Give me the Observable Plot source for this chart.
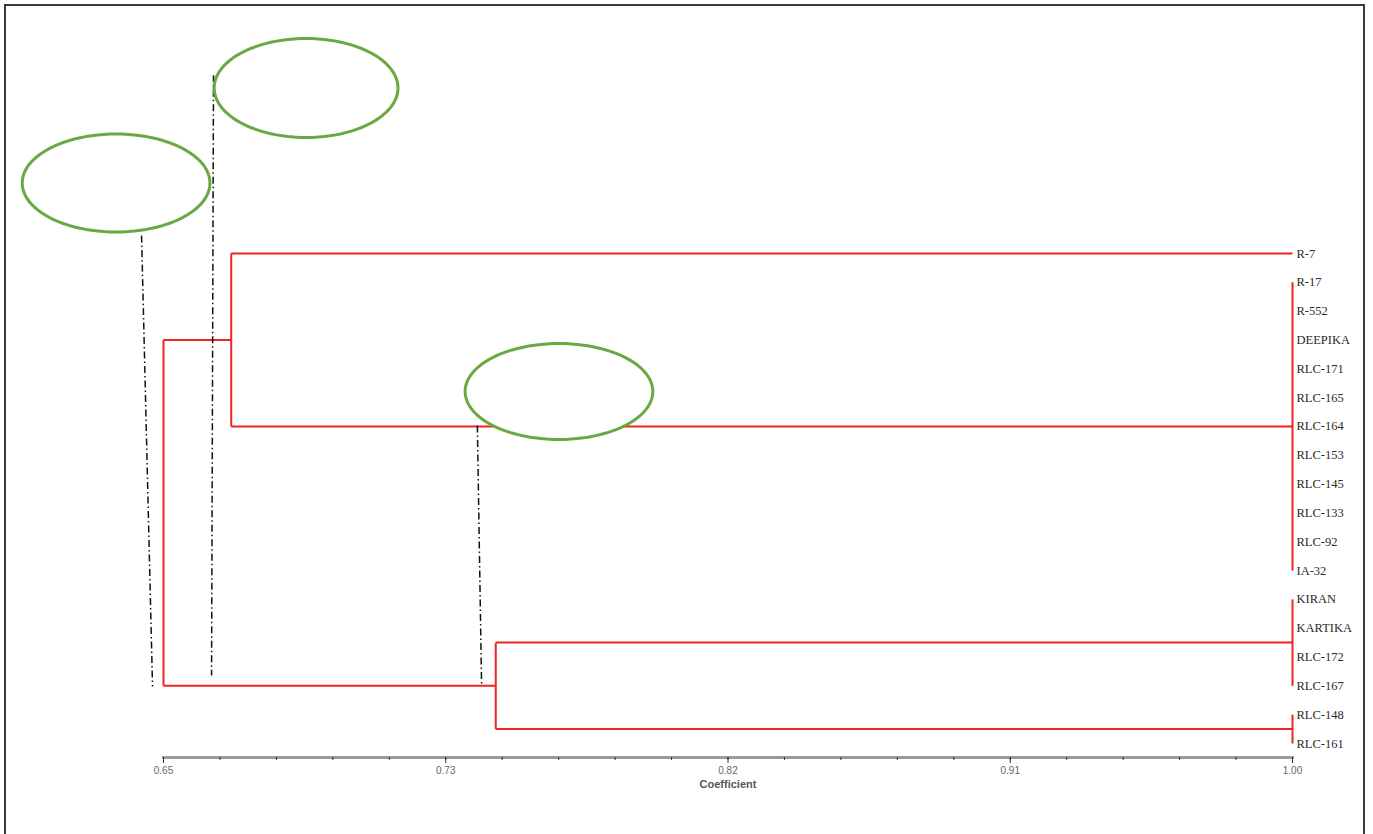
<!DOCTYPE html>
<html>
<head>
<meta charset="utf-8">
<script src="https://cdn.jsdelivr.net/npm/d3@7"></script>
<script src="https://cdn.jsdelivr.net/npm/@observablehq/plot@0.6"></script>
<style>
  body { margin: 0; background: #fff; }
  #wrap { position: relative; width: 1373px; height: 834px; overflow: hidden; background: #fff; }
  #border { position: absolute; left: 4px; top: 4px; width: 1361px; height: 900px; box-sizing: border-box; border: 2px solid #3a3a3a; pointer-events: none; }
  #chart svg { display: block; overflow: visible; }
</style>
</head>
<body>
<div id="wrap"><div id="chart"></div><div id="border"></div></div>
<script>
// Leaves, top to bottom
const leaves = ["R-7","R-17","R-552","DEEPIKA","RLC-171","RLC-165","RLC-164","RLC-153",
  "RLC-145","RLC-133","RLC-92","IA-32","KIRAN","KARTIKA","RLC-172","RLC-167","RLC-148","RLC-161"];

// Merges (similarity coefficient at which the children join)
const merges = [
  {name: "A", children: ["R-17","R-552","DEEPIKA","RLC-171","RLC-165","RLC-164","RLC-153","RLC-145","RLC-133","RLC-92","IA-32"], coef: 1.00},
  {name: "B", children: ["R-7","A"], coef: 0.671},
  {name: "C", children: ["KIRAN","KARTIKA","RLC-172","RLC-167"], coef: 1.00},
  {name: "D", children: ["RLC-148","RLC-161"], coef: 1.00},
  {name: "E", children: ["C","D"], coef: 0.753},
  {name: "F", children: ["B","E"], coef: 0.65}
];

// Axis ticks
const xTickValues = [0.65, 0.7375, 0.825, 0.9125, 1.00];
const xTickLabels = ["0.65", "0.73", "0.82", "0.91", "1.00"];
const xMinorTicks = d3.range(0, 21).map(k => 0.65 + k * 0.0175);
const axisTitle = "Coefficient";

// Annotation ellipses (centre and radii in coefficient / leaf-row units)
const ellipseCx = [0.6353, 0.6942, 0.7726];
const ellipseCy = [-2.446, -5.742, 4.788];
const ellipseRx = [0.0291, 0.0285, 0.0291];
const ellipseRy = [1.70, 1.717, 1.665];

// Dash-dot guide lines
const guideX1 = [0.6432, 0.6655, 0.7473];
const guideY1 = [-0.62, -6.18, 5.97];
const guideX2 = [0.6466, 0.6649, 0.7486];
const guideY2 = [15.02, 14.64, 14.92];

// Build dendrogram segments
const pos = new Map(leaves.map((n, i) => [n, {x: 1.00, y: i}]));
const segs = [];
for (const m of merges) {
  const ch = m.children.map(c => pos.get(c));
  const ys = ch.map(c => c.y);
  const y0 = Math.min(...ys), y1 = Math.max(...ys);
  segs.push({x1: m.coef, x2: m.coef, y1: y0, y2: y1});
  for (const c of ch) segs.push({x1: c.x, x2: m.coef, y1: c.y, y2: c.y});
  pos.set(m.name, {x: m.coef, y: (y0 + y1) / 2});
}
const leafData = leaves.map((n, i) => ({name: n, x: 1.00, y: i}));

const ellPts = [];
ellipseCx.forEach((cx, j) => {
  for (let k = 0; k <= 96; k++) {
    const a = (k / 96) * 2 * Math.PI;
    ellPts.push({id: j, x: cx + ellipseRx[j] * Math.cos(a), y: ellipseCy[j] + ellipseRy[j] * Math.sin(a)});
  }
});
const guides = guideX1.map((x, j) => ({x1: x, y1: guideY1[j], x2: guideX2[j], y2: guideY2[j]}));

const chart = Plot.plot({
  width: 1373,
  height: 834,
  marginLeft: 163,
  marginRight: 81,
  marginTop: 0,
  marginBottom: 77,
  style: {background: "transparent"},
  x: {domain: [0.65, 1.00]},
  y: {domain: [0, 17], range: [253, 743], axis: null},
  marks: [
    Plot.frame({anchor: "bottom", stroke: "#9a9a9a", strokeWidth: 3}),
    Plot.axisX({ticks: xMinorTicks, tickSize: 3, tickFormat: () => "", label: null, stroke: "#333"}),
    Plot.axisX({ticks: xTickValues, tickSize: 6, tickPadding: 3, tickFormat: (d, i) => xTickLabels[i],
      label: null, stroke: "#333", fill: "#666", fontSize: 10, fontFamily: "Liberation Sans, Arial, sans-serif"}),
    Plot.text([axisTitle], {frameAnchor: "bottom", dy: 30, fontWeight: "bold", fontSize: 11,
      fill: "#555", fontFamily: "Liberation Sans, Arial, sans-serif"}),
    Plot.link(segs, {x1: "x1", y1: "y1", x2: "x2", y2: "y2", stroke: "#ee2424", strokeWidth: 2}),
    Plot.link(guides, {x1: "x1", y1: "y1", x2: "x2", y2: "y2", stroke: "#111", strokeWidth: 1.5,
      strokeDasharray: "7,3,1.5,3"}),
    Plot.line(ellPts, {x: "x", y: "y", z: "id", stroke: "#6aa843", strokeWidth: 3, fill: "white", curve: "linear"}),
    Plot.text(leafData, {x: "x", y: "y", text: "name", textAnchor: "start", dx: 4, fontSize: 12.5,
      fill: "#2a2a2a", fontFamily: "Liberation Serif, Times New Roman, serif"})
  ]
});
document.getElementById("chart").appendChild(chart);
</script>
</body>
</html>
